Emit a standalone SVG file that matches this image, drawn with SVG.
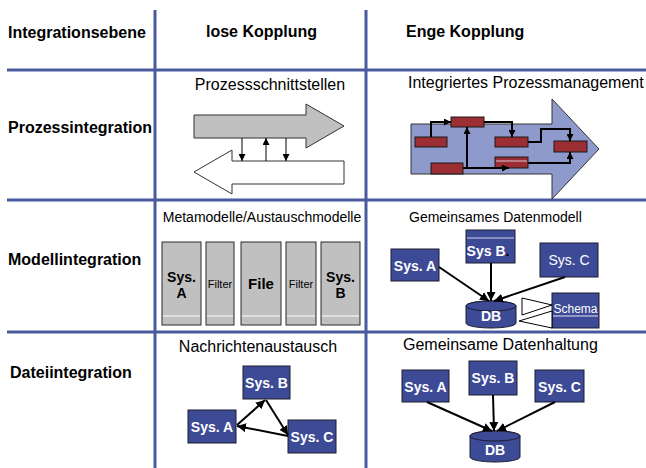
<svg xmlns="http://www.w3.org/2000/svg" width="646" height="468" viewBox="0 0 646 468">
<style>
.grid{stroke:#4a5a9e;stroke-width:3;fill:none}
.hdr{font-family:"Liberation Sans",Arial,sans-serif;font-weight:bold;font-size:16px;fill:#000}
.lbl{font-family:"Liberation Sans",Arial,sans-serif;font-size:16px;fill:#000}
.sub{font-family:"Liberation Sans",Arial,sans-serif;font-size:14px;fill:#000}
.box{fill:#3d4b96;stroke:#1c1c2e;stroke-width:1}
.bt{font-family:"Liberation Sans",Arial,sans-serif;font-weight:bold;font-size:14px;fill:#fff;text-anchor:middle}
.red{fill:#9a2e33;stroke:#1a1a1a;stroke-width:1}
.col{fill:#c0c0c0;stroke:#2a2a2a;stroke-width:1}
.ct{font-family:"Liberation Sans",Arial,sans-serif;font-weight:bold;font-size:14px;fill:#000;text-anchor:middle}
.ft{font-family:"Liberation Sans",Arial,sans-serif;font-size:11px;fill:#000;text-anchor:middle}
.thin{stroke:#000;stroke-width:1;fill:none}
.thick{stroke:#000;stroke-width:2;fill:none}
</style>
<defs>
<marker id="ah" viewBox="0 0 10 10" refX="10" refY="5" markerWidth="7" markerHeight="7" markerUnits="userSpaceOnUse" orient="auto"><path d="M0,0 L10,5 L0,10 z" fill="#000"/></marker>
<marker id="ah2" viewBox="0 0 10 10" refX="10" refY="5" markerWidth="9" markerHeight="9" markerUnits="userSpaceOnUse" orient="auto"><path d="M0,0 L10,5 L0,10 z" fill="#000"/></marker>
</defs>
<rect width="646" height="468" fill="#fff"/>

<g id="grid">
<line class="grid" x1="155" y1="10" x2="155" y2="468"/>
<line class="grid" x1="366" y1="10" x2="366" y2="468"/>
<line class="grid" x1="7" y1="70" x2="646" y2="70"/>
<line class="grid" x1="7" y1="200" x2="646" y2="200"/>
<line class="grid" x1="7" y1="332" x2="646" y2="332"/>
</g>

<g id="headers">
<text class="hdr" x="8" y="38">Integrationsebene</text>
<text class="hdr" x="206" y="37">lose Kopplung</text>
<text class="hdr" x="406" y="37">Enge Kopplung</text>
<text class="hdr" x="8" y="133">Prozessintegration</text>
<text class="hdr" x="8" y="265">Modellintegration</text>
<text class="hdr" x="10" y="378">Dateiintegration</text>
</g>

<g id="prozess-lose">
<text class="lbl" x="270" y="90" text-anchor="middle">Prozessschnittstellen</text>
<polygon points="194,115 306,115 306,104 344,126 306,148 306,138 194,138" fill="#c0c0c0" stroke="#333" stroke-width="1"/>
<polygon points="344,161 232,161 232,150 194,172 232,194 232,184 344,184" fill="#fff" stroke="#333" stroke-width="1"/>
<line class="thin" x1="242" y1="138" x2="242" y2="161" marker-end="url(#ah)"/>
<line class="thin" x1="266" y1="161" x2="266" y2="138" marker-end="url(#ah)"/>
<line class="thin" x1="286" y1="138" x2="286" y2="161" marker-end="url(#ah)"/>
</g>

<g id="prozess-eng">
<text class="lbl" x="408" y="88">Integriertes Prozessmanagement</text>
<polygon points="411,124 552,124 552,99 599,149 552,199 552,174 411,174" fill="#8e9acb" stroke="#333" stroke-width="1"/>
<rect class="red" x="415" y="137" width="32" height="10"/>
<rect class="red" x="451" y="117" width="33" height="10"/>
<rect class="red" x="495" y="137" width="33" height="10"/>
<rect class="red" x="431" y="163" width="32" height="11"/>
<rect class="red" x="495" y="157" width="33" height="11"/>
<line x1="496" y1="161" x2="527" y2="161" stroke="#d8c8d0" stroke-width="1"/>
<rect class="red" x="554" y="141" width="33" height="11"/>
<g id="proc-connectors">
<polyline class="thick" points="431,137 431,122 451,122" marker-end="url(#ah)"/>
<polyline class="thick" points="484,122 512,122 512,137" marker-end="url(#ah)"/>
<polyline class="thick" points="463,168 509,168" marker-end="url(#ah)"/>
<polyline class="thick" points="467,168 467,127" marker-end="url(#ah)"/>
<polyline class="thick" points="528,142 541,142 541,129 570,129 570,141" marker-end="url(#ah)"/>
<polyline class="thick" points="528,163 570,163 570,152" marker-end="url(#ah)"/>
</g>
</g>

<g id="modell-lose">
<text class="sub" x="262" y="222" text-anchor="middle">Metamodelle/Austauschmodelle</text>
<g id="col-sysa"><rect class="col" x="162" y="242" width="39" height="83"/><line x1="163" y1="316" x2="200" y2="316" stroke="#fff"/><text class="ct" x="181.5" y="282">Sys.</text><text class="ct" x="181.5" y="298">A</text></g>
<g id="col-filter1"><rect class="col" x="206" y="242" width="28" height="83"/><line x1="207" y1="316" x2="233" y2="316" stroke="#fff"/><text class="ft" x="220" y="288">Filter</text></g>
<g id="col-file"><rect class="col" x="241" y="242" width="40" height="83"/><line x1="242" y1="316" x2="280" y2="316" stroke="#fff"/><text class="ct" x="261" y="289" style="font-size:15px">File</text></g>
<g id="col-filter2"><rect class="col" x="286" y="242" width="30" height="83"/><line x1="287" y1="316" x2="315" y2="316" stroke="#fff"/><text class="ft" x="301" y="288">Filter</text></g>
<g id="col-sysb"><rect class="col" x="321" y="242" width="39" height="83"/><line x1="322" y1="316" x2="359" y2="316" stroke="#fff"/><text class="ct" x="340.5" y="282">Sys.</text><text class="ct" x="340.5" y="298">B</text></g>
</g>

<g id="modell-eng">
<text class="sub" x="409" y="222">Gemeinsames Datenmodell</text>
<g id="m-sysa"><rect class="box" x="391" y="249" width="48" height="32"/><text class="bt" x="415" y="271">Sys. A</text></g>
<g id="m-sysb"><rect class="box" x="466" y="230" width="49" height="33"/><line x1="467" y1="238" x2="514" y2="238" stroke="#d0d4ea"/><text class="bt" x="488" y="256">Sys B<tspan fill="#000">.</tspan></text></g>
<g id="m-sysc"><rect class="box" x="540" y="243" width="58" height="34"/><text class="bt" x="569" y="265" style="font-weight:normal;font-size:14px">Sys. C</text></g>
<g id="m-db"><path class="box" d="M466,306 A25,5 0 0 1 516,306 V323 A25,5 0 0 1 466,323 Z"/><ellipse class="box" cx="491" cy="306" rx="25" ry="5"/><text class="bt" x="491" y="321">DB</text></g>
<g id="m-schema"><rect class="box" x="552" y="293" width="47" height="35"/><line x1="553" y1="316" x2="598" y2="316" stroke="#e0e4f4"/><text x="575.5" y="313" text-anchor="middle" font-family="Liberation Sans, Arial, sans-serif" font-size="12" fill="#fff">Schema</text></g>
<g id="m-connectors">
<line class="thick" x1="439" y1="267" x2="489" y2="301" marker-end="url(#ah2)"/>
<line class="thick" x1="491" y1="263" x2="491" y2="301" marker-end="url(#ah2)"/>
<line class="thick" x1="565" y1="277" x2="494" y2="301" marker-end="url(#ah2)"/>
<polygon points="522,298 522,315 552,305" fill="#fff" stroke="#000" stroke-width="1"/>
<polygon points="552,311 552,328 519,321" fill="#fff" stroke="#000" stroke-width="1"/>
</g>
</g>

<g id="datei-lose">
<text class="lbl" x="258" y="352" text-anchor="middle">Nachrichtenaustausch</text>
<g id="d-sysb"><rect class="box" x="243" y="366" width="47" height="33"/><text class="bt" x="266.5" y="388">Sys. B</text></g>
<g id="d-sysa"><rect class="box" x="188" y="410" width="48" height="33"/><text class="bt" x="212" y="432">Sys. A</text></g>
<g id="d-sysc"><rect class="box" x="288" y="420" width="48" height="33"/><text class="bt" x="312" y="442">Sys. C</text></g>
<g id="d-connectors">
<line class="thick" x1="237" y1="425" x2="265" y2="400" marker-end="url(#ah2)"/>
<line class="thick" x1="266" y1="400" x2="288" y2="435" marker-end="url(#ah2)"/>
<line class="thick" x1="288" y1="436" x2="237" y2="426" marker-end="url(#ah2)"/>
</g>
</g>

<g id="datei-eng">
<text class="lbl" x="403" y="350">Gemeinsame Datenhaltung</text>
<g id="e-sysa"><rect class="box" x="402" y="370" width="47" height="32"/><text class="bt" x="425.5" y="392">Sys. A</text></g>
<g id="e-sysb"><rect class="box" x="469" y="361" width="48" height="34"/><text class="bt" x="493" y="383">Sys. B</text></g>
<g id="e-sysc"><rect class="box" x="535" y="370" width="49" height="32"/><text class="bt" x="559.5" y="392">Sys. C</text></g>
<g id="e-db"><path class="box" d="M470,436 A25,5 0 0 1 520,436 V457 A25,5 0 0 1 470,457 Z"/><ellipse class="box" cx="495" cy="436" rx="25" ry="5"/><text class="bt" x="495" y="455">DB</text></g>
<g id="e-connectors">
<line class="thick" x1="427" y1="402" x2="492" y2="431" marker-end="url(#ah2)"/>
<line class="thick" x1="493" y1="395" x2="494" y2="431" marker-end="url(#ah2)"/>
<line class="thick" x1="555" y1="402" x2="497" y2="431" marker-end="url(#ah2)"/>
</g>
</g>
</svg>
